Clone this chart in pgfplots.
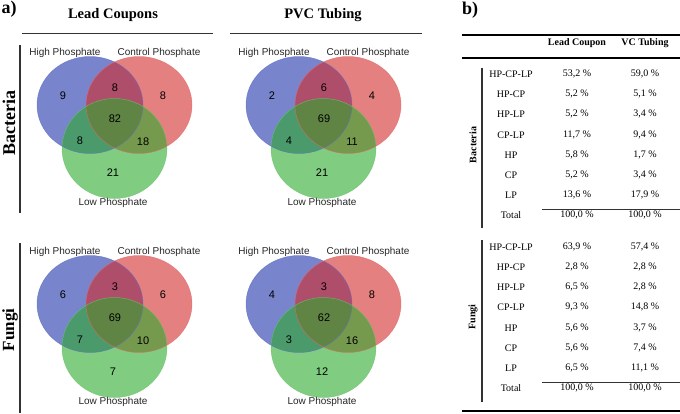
\documentclass[border=0pt]{standalone}
\usepackage{pgfplots}
\pgfplotsset{compat=1.18}
\usepackage{pgfplotstable}
\usepackage{fontspec}
\setmainfont{Liberation Serif}
\newfontfamily\arial{Liberation Sans}
\definecolor{vblue}{RGB}{30,50,170}
\definecolor{vred}{RGB}{212,43,43}
\definecolor{vgreen}{RGB}{43,170,43}
\definecolor{dgray}{RGB}{50,50,50}

% Venn counts: x y count (pixel positions, y downward)
\pgfplotstableread{
x y n
63 96 9
115 88 8
163 96 8
115 119 82
80 141 8
143 142 18
113 173 21
272 96 2
324 88 6
372 96 4
324 119 69
289 141 4
352 142 11
322 173 21
63 295 6
115 287 3
163 295 6
115 318 69
80 340 7
143 341 10
113 372 7
272 295 4
324 287 3
372 295 8
324 318 62
289 340 3
352 341 16
322 372 12
}\venncounts

\pgfplotstableread[col sep=semicolon]{
y;name;lead;vc
74;HP-CP-LP;53,2;59,0
94;HP-CP;5,2;5,1
114;HP-LP;5,2;3,4
135;CP-LP;11,7;9,4
155;HP;5,8;1,7
175;CP;5,2;3,4
195;LP;13,6;17,9
215;Total;100,0;100,0
247;HP-CP-LP;63,9;57,4
267;HP-CP;2,8;2,8
287;HP-LP;6,5;2,8
307;CP-LP;9,3;14,8
328;HP;5,6;3,7
348;CP;5,6;7,4
368;LP;6,5;11,1
388;Total;100,0;100,0
}\pcttable

\begin{document}
\begin{tikzpicture}
\begin{axis}[at={(0,0)}, anchor=south west, width=680pt, height=413pt,
  scale only axis, xmin=0, xmax=680, ymin=0, ymax=413, y dir=reverse,
  hide axis, clip=false]
% ---- Venn ellipses ----
\foreach \dx/\dy in {0/0, 209/0, 0/199, 209/199}{
  \edef\temp{\noexpand\fill[vblue, fill opacity=.6] (axis cs:{90+\dx},{105+\dy}) ellipse [x radius=53, y radius=48.5];
  \noexpand\fill[vred, fill opacity=.6] (axis cs:{139+\dx},{105+\dy}) ellipse [x radius=53, y radius=48.5];
  \noexpand\fill[vgreen, fill opacity=.6] (axis cs:{114.5+\dx},{148.5+\dy}) ellipse [x radius=52.5, y radius=50];
  \noexpand\draw[vblue!70, line width=0.5pt, opacity=.7] (axis cs:{90+\dx},{105+\dy}) ellipse [x radius=53, y radius=48.5];
  \noexpand\draw[vred!70, line width=0.5pt, opacity=.7] (axis cs:{139+\dx},{105+\dy}) ellipse [x radius=53, y radius=48.5];
  \noexpand\draw[vgreen!70, line width=0.5pt, opacity=.7] (axis cs:{114.5+\dx},{148.5+\dy}) ellipse [x radius=52.5, y radius=50];
  \noexpand\node[font=\noexpand\arial\noexpand\fontsize{10}{12}\noexpand\selectfont, text=black!85] at (axis cs:{65+\dx},{53+\dy}) {High Phosphate};
  \noexpand\node[font=\noexpand\arial\noexpand\fontsize{10}{12}\noexpand\selectfont, text=black!85] at (axis cs:{159+\dx},{53+\dy}) {Control Phosphate};
  \noexpand\node[font=\noexpand\arial\noexpand\fontsize{10}{12}\noexpand\selectfont, text=black!85] at (axis cs:{113+\dx},{203+\dy}) {Low Phosphate};
  }\temp
}
% ---- Venn counts ----
\addplot[only marks, mark=none, nodes near coords, point meta=explicit symbolic,
  nodes near coords style={anchor=center, font=\arial\fontsize{11}{13}\selectfont, text=black}]
  table[x=x, y=y, meta=n] {\venncounts};
% ---- panel titles and frame lines ----
\node[font=\bfseries\fontsize{18}{20}\selectfont] at (axis cs:9,9) {a)};
\node[font=\bfseries\fontsize{14.5}{16}\selectfont] at (axis cs:113,15) {Lead Coupons};
\node[font=\bfseries\fontsize{14.5}{16}\selectfont] at (axis cs:323,15) {PVC Tubing};
\draw[line width=1pt, dgray] (axis cs:22,33) -- (axis cs:213,33);
\draw[line width=1pt, dgray] (axis cs:230,33) -- (axis cs:422,33);
\draw[line width=1.5pt, dgray] (axis cs:20,45) -- (axis cs:20,213);
\draw[line width=1.5pt, dgray] (axis cs:20,243) -- (axis cs:20,413);
\node[rotate=90, font=\bfseries\fontsize{18}{20}\selectfont] at (axis cs:9,123) {Bacteria};
\node[rotate=90, font=\bfseries\fontsize{17}{19}\selectfont, inner sep=0pt] at (axis cs:10,330) {Fungi};
% ---- table b) ----
\node[font=\bfseries\fontsize{18}{20}\selectfont] at (axis cs:470,10) {b)};
\draw[line width=1.2pt, black] (axis cs:462,35) -- (axis cs:680,35);
\draw[line width=2pt, black] (axis cs:462,58) -- (axis cs:680,58);
\draw[line width=2.5pt, black] (axis cs:462,411) -- (axis cs:680,411);
\draw[line width=0.8pt, dgray] (axis cs:542,209) -- (axis cs:680,209);
\draw[line width=0.8pt, dgray] (axis cs:542,382) -- (axis cs:680,382);
\draw[line width=1.5pt, dgray] (axis cs:482,68) -- (axis cs:482,228);
\draw[line width=1.5pt, dgray] (axis cs:482,240) -- (axis cs:482,402);
\node[font=\bfseries\fontsize{10}{12}\selectfont] at (axis cs:577,43) {Lead Coupon};
\node[font=\bfseries\fontsize{10}{12}\selectfont] at (axis cs:645,43) {VC Tubing};
\node[rotate=90, font=\bfseries\fontsize{10}{12}\selectfont] at (axis cs:473,145) {Bacteria};
\node[rotate=90, font=\bfseries\fontsize{10}{12}\selectfont] at (axis cs:473,317) {Fungi};
\addplot[only marks, mark=none, nodes near coords, point meta=explicit symbolic,
  nodes near coords style={anchor=center, font=\fontsize{10}{12}\selectfont, text=black}]
  table[x expr=511, y=y, meta=name] {\pcttable};
\addplot[only marks, mark=none, nodes near coords={\pgfplotspointmeta{} \%}, point meta=explicit symbolic,
  nodes near coords style={anchor=center, font=\fontsize{10}{12}\selectfont, text=black}]
  table[x expr=577, y=y, meta=lead] {\pcttable};
\addplot[only marks, mark=none, nodes near coords={\pgfplotspointmeta{} \%}, point meta=explicit symbolic,
  nodes near coords style={anchor=center, font=\fontsize{10}{12}\selectfont, text=black}]
  table[x expr=645, y=y, meta=vc] {\pcttable};
\end{axis}
\pgfresetboundingbox
\useasboundingbox (0,0) rectangle (680pt,413pt);
\end{tikzpicture}
\end{document}
